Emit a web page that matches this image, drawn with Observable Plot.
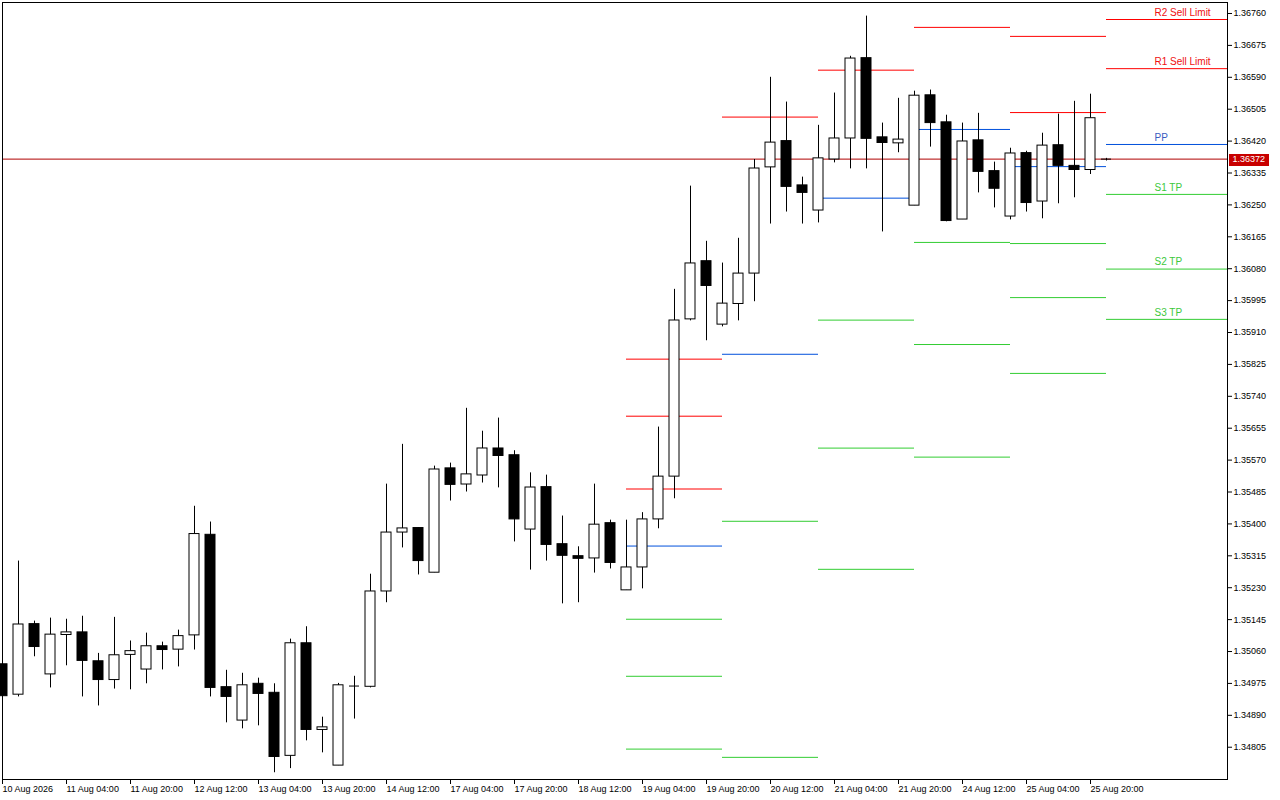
<!DOCTYPE html>
<html>
<head>
<meta charset="utf-8">
<script src="https://cdn.jsdelivr.net/npm/d3@7"></script>
<script src="https://cdn.jsdelivr.net/npm/@observablehq/plot@0.6"></script>
<style>
  html, body { margin: 0; padding: 0; background: #fff; }
  #chart { width: 1280px; height: 800px; }
</style>
</head>
<body>
<div id="chart"></div>
<script>
// ---- Data (H4 candles, 10 Aug 2026 12:00 → 26 Aug 2026 00:00) ----
const open = [1.35026,1.34945,1.35133,1.34999,1.35104,1.35111,1.35034,1.34984,1.35051,1.35012,
  1.35074,1.35065,1.35103,1.35371,1.34965,1.34876,1.34974,1.34950,1.34782,1.35082,
  1.34851,1.34756,1.34968,1.34966,1.35220,1.35377,1.35389,1.35270,1.35548,1.35505,
  1.35529,1.35601,1.35583,1.35385,1.35498,1.35346,1.35314,1.35308,1.35402,1.35223,
  1.35284,1.35412,1.35526,1.35945,1.36100,1.35931,1.35986,1.36067,1.36350,1.36420,
  1.36302,1.36235,1.36371,1.36427,1.36641,1.36430,1.36414,1.36248,1.36542,1.36470,
  1.36211,1.36422,1.36340,1.36219,1.36388,1.36259,1.36409,1.36354,1.36343,1.36372];
const high = [1.35029,1.35301,1.35141,1.35149,1.35146,1.35154,1.35055,1.35151,1.35088,1.35109,
  1.35085,1.35117,1.35447,1.35405,1.35010,1.35002,1.34989,1.34974,1.35093,1.35126,
  1.34885,1.34975,1.34994,1.35266,1.35506,1.35612,1.35390,1.35554,1.35562,1.35708,
  1.35647,1.35682,1.35595,1.35536,1.35530,1.35421,1.35339,1.35506,1.35410,1.35410,
  1.35430,1.35658,1.36025,1.36300,1.36153,1.36095,1.36161,1.36371,1.36590,1.36524,
  1.36324,1.36462,1.36548,1.36646,1.36753,1.36468,1.36534,1.36553,1.36556,1.36489,
  1.36468,1.36494,1.36364,1.36401,1.36393,1.36441,1.36492,1.36526,1.36545,1.36374];
const low = [1.34940,1.34939,1.35046,1.34963,1.35022,1.34939,1.34915,1.34960,1.34958,1.34974,
  1.35011,1.35019,1.35064,1.34939,1.34870,1.34854,1.34862,1.34737,1.34748,1.34822,
  1.34790,1.34756,1.34880,1.34963,1.35190,1.35336,1.35264,1.35270,1.35461,1.35485,
  1.35509,1.35496,1.35352,1.35277,1.35301,1.35187,1.35190,1.35269,1.35280,1.35223,
  1.35227,1.35387,1.35467,1.35941,1.35888,1.35925,1.35941,1.35992,1.36199,1.36231,
  1.36199,1.36202,1.36362,1.36346,1.36346,1.36178,1.36389,1.36248,1.36404,1.36205,
  1.36211,1.36282,1.36242,1.36210,1.36231,1.36213,1.36253,1.36269,1.36331,1.36367];
const close = [1.34941,1.35132,1.35072,1.35105,1.35111,1.35035,1.34984,1.35050,1.35061,1.35074,
  1.35064,1.35101,1.35373,1.34963,1.34939,1.34970,1.34947,1.34779,1.35082,1.34851,
  1.34858,1.34970,1.34968,1.35220,1.35377,1.35388,1.35301,1.35545,1.35504,1.35532,
  1.35601,1.35581,1.35412,1.35497,1.35344,1.35315,1.35307,1.35398,1.35296,1.35284,
  1.35412,1.35526,1.35942,1.36094,1.36034,1.35987,1.36067,1.36347,1.36416,1.36298,
  1.36282,1.36374,1.36427,1.36640,1.36426,1.36415,1.36424,1.36541,1.36468,1.36207,
  1.36419,1.36338,1.36293,1.36387,1.36255,1.36408,1.36354,1.36343,1.36481,1.36372];
const currentPrice = 1.36372;

// Daily pivot levels (each starts at the day's first H4 bar)
const pivotStart = [39, 45, 51, 57, 63, 69];
const pivotR3 = [1.35839, null, null, null, null, null];
const pivotR2 = [1.35687, null, null, null, 1.36699, 1.36744];
const pivotR1 = [1.35493, 1.36484, 1.36609, 1.36723, 1.36496, 1.36613];
const pivotPP = [1.35341, 1.35852, 1.36268, 1.36451, 1.36352, 1.36411];
const pivotS1 = [1.35146, 1.35407, 1.35943, 1.36150, 1.36147, 1.36278];
const pivotS2 = [1.34994, 1.34778, 1.35602, 1.35878, 1.36003, 1.36079];
const pivotS3 = [1.34800, null, 1.35279, 1.35578, 1.35801, 1.35945];
const currentLabels = ["R2 Sell Limit", "R1 Sell Limit", "PP", "S1 TP", "S2 TP", "S3 TP"];

// Axis ticks
const yTicks = [1.34805,1.34890,1.34975,1.35060,1.35145,1.35230,1.35315,1.35400,1.35485,1.35570,
  1.35655,1.35740,1.35825,1.35910,1.35995,1.36080,1.36165,1.36250,1.36335,1.36420,
  1.36505,1.36590,1.36675,1.36760];
const xTickIdx = [0,4,8,12,16,20,24,28,32,36,40,44,48,52,56,60,64,68];
const xTickLabels = ["10 Aug 2026","11 Aug 04:00","11 Aug 20:00","12 Aug 12:00","13 Aug 04:00",
  "13 Aug 20:00","14 Aug 12:00","17 Aug 04:00","17 Aug 20:00","18 Aug 12:00","19 Aug 04:00",
  "19 Aug 20:00","20 Aug 12:00","21 Aug 04:00","21 Aug 20:00","24 Aug 12:00","25 Aug 04:00",
  "25 Aug 20:00"];

// ---- Build tables ----
const RED = "#ff0000", BLUE = "#0050dc", GREEN = "#32cd32";
const X_END = 76.5625;       // right edge of the plotting area in bar units
const HALF = 0.3125;         // half body width in bar units

const candles = open.map((o, i) => ({i, o, h: high[i], l: low[i], c: close[i], up: close[i] >= o}));

const series = [[pivotR3, RED], [pivotR2, RED], [pivotR1, RED], [pivotPP, BLUE],
                [pivotS1, GREEN], [pivotS2, GREEN], [pivotS3, GREEN]];
const levels = [];
pivotStart.forEach((s, d) => {
  const e = d < pivotStart.length - 1 ? pivotStart[d + 1] : X_END;
  series.forEach(([arr, col]) => {
    if (arr[d] != null) levels.push({p: arr[d], x1: s, x2: e, color: col});
  });
});
const last = pivotStart.length - 1;
const lastVals = [pivotR2[last], pivotR1[last], pivotPP[last], pivotS1[last], pivotS2[last], pivotS3[last]];
const lastCols = ["#ee1010", "#ee1010", "#3a5cc0", "#3cc83c", "#3cc83c", "#3cc83c"];
const labelRows = currentLabels.map((t, k) => ({t, p: lastVals[k], color: lastCols[k], x: pivotStart[last] + 3}));

const plot = Plot.plot({
  width: 1280,
  height: 800,
  marginTop: 2,
  marginLeft: 2,
  marginRight: 53,
  marginBottom: 21,
  style: {fontFamily: "'Liberation Sans', Arial, sans-serif", fontSize: "9px", background: "#fff", color: "#000"},
  x: {type: "linear", domain: [0, X_END]},
  y: {domain: [1.347190, 1.367893]},
  marks: [
    Plot.ruleY([currentPrice], {stroke: "#b00000"}),
    Plot.ruleY(levels, {y: "p", x1: "x1", x2: "x2", stroke: "color"}),
    Plot.ruleX(candles, {x: "i", y1: "l", y2: "h", stroke: "#000"}),
    Plot.rect(candles.filter(d => d.o !== d.c), {
      x1: d => d.i - HALF, x2: d => d.i + HALF, y1: "o", y2: "c",
      fill: d => d.up ? "#fff" : "#000", stroke: "#000"
    }),
    Plot.ruleY(candles.filter(d => d.o === d.c), {y: "o", x1: d => d.i - HALF, x2: d => d.i + HALF, stroke: "#000"}),
    Plot.text(labelRows, {x: "x", y: "p", text: "t", fill: "color", textAnchor: "start", dy: -7, fontSize: 10}),
    Plot.frame({stroke: "#000"}),
    Plot.axisY({anchor: "right", ticks: yTicks, tickFormat: d => d.toFixed(5), tickSize: 4, tickPadding: 2, label: null}),
    Plot.axisX({ticks: xTickIdx, tickFormat: d => xTickLabels[xTickIdx.indexOf(d)], tickSize: 5, tickPadding: 1,
                textAnchor: "start", label: null}),
    Plot.text([currentPrice], {y: d => d, frameAnchor: "right", dx: 5, textAnchor: "start", fill: "#fff",
                text: d => d.toFixed(5)})
  ]
});
document.getElementById("chart").appendChild(plot);

// background box for the current-price label on the price scale (drawn beneath everything)
const yCur = plot.scale("y").apply(currentPrice);
d3.select(plot).insert("rect", ":first-child")
  .attr("x", 1229).attr("y", Math.round(yCur) - 5).attr("width", 40).attr("height", 12)
  .attr("fill", "#c80000");
</script>
</body>
</html>
